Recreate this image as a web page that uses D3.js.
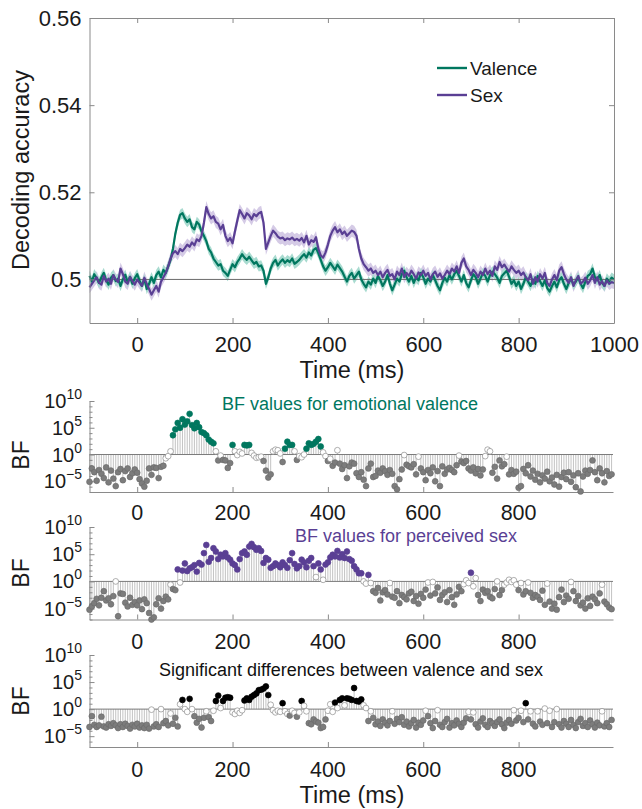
<!DOCTYPE html>
<html><head><meta charset="utf-8">
<script src="https://cdn.jsdelivr.net/npm/d3@7"></script>
<style>
body{margin:0;background:#fff}
svg{display:block}
text{font-family:"Liberation Sans",Arial,Helvetica,sans-serif;fill:#1a1a1a}
</style>
</head><body>
<svg id="chart" width="642" height="809"></svg>
<script>
// ---------------- DATA ----------------
const accStartMs = -100, accStepMs = 5;           // samples every 5 ms from -100 to 1000
const seriesNames = ["Valence", "Sex"];
const accValence = [
 .5008,.4995,.5012,.5003,.4992,.5005,.5015,.4998,.4988,.5004,.5010,.4996,.5002,.4985,.5000,.5011,.4994,.5006,.4990,.5003,
 .5012,.4997,.4985,.5001,.4978,.4990,.5005,.4992,.5010,.5018,.5005,.5022,.5015,.5030,.5045,.5070,.5105,.5130,.5148,.5152,
 .5140,.5132,.5138,.5120,.5115,.5132,.5126,.5110,.5100,.5088,.5070,.5062,.5048,.5040,.5032,.5035,.5020,.5015,.5008,.5022,
 .5035,.5028,.5040,.5048,.5058,.5050,.5045,.5052,.5044,.5036,.5040,.5030,.5032,.5020,.4990,.5005,.5025,.5038,.5045,.5032,
 .5040,.5046,.5038,.5044,.5040,.5048,.5036,.5040,.5045,.5052,.5058,.5050,.5062,.5055,.5068,.5072,.5060,.5045,.5030,.5020,
 .5028,.5038,.5030,.5022,.5034,.5026,.5018,.5006,.4995,.5008,.5015,.5002,.5010,.5018,.5000,.4990,.4982,.4995,.4988,.5002,
 .4992,.5008,.4998,.4985,.4995,.5010,.4990,.4975,.4988,.5002,.4995,.5012,.5020,.5005,.4995,.5008,.4992,.5005,.4998,.5015,
 .5005,.4990,.5002,.4995,.5010,.4998,.4985,.4975,.4992,.5004,.4995,.5010,.5000,.5012,.5020,.5008,.4995,.5010,.4992,.4982,
 .4998,.5012,.5005,.4990,.5002,.5015,.5008,.4995,.5010,.5018,.5012,.5004,.4992,.5008,.5014,.5020,.5006,.4990,.4998,.4985,
 .4995,.4978,.4990,.5005,.4995,.4985,.5000,.4990,.5008,.4996,.4985,.4998,.4980,.4972,.4985,.4995,.4982,.4998,.5005,.4990,
 .4978,.4992,.5002,.4988,.4995,.5005,.4990,.4980,.4995,.5008,.5012,.5025,.5005,.4998,.5010,.4992,.4985,.5002,.4995,.5004,
 .5000
];
const accSex = [
 .4982,.4990,.4998,.5005,.4992,.4988,.5008,.4995,.5002,.4990,.5010,.5000,.4994,.5025,.5012,.4995,.4990,.5006,.4996,.4988,
 .5000,.4992,.4985,.5004,.4990,.4978,.4965,.4975,.4985,.4972,.4995,.5005,.5015,.5030,.5048,.5060,.5065,.5058,.5070,.5065,
 .5072,.5080,.5075,.5085,.5078,.5092,.5088,.5100,.5130,.5166,.5150,.5140,.5145,.5132,.5128,.5115,.5125,.5100,.5088,.5095,
 .5083,.5110,.5135,.5159,.5150,.5140,.5152,.5147,.5138,.5150,.5145,.5152,.5155,.5130,.5070,.5085,.5100,.5112,.5106,.5098,
 .5094,.5096,.5090,.5094,.5092,.5096,.5090,.5093,.5089,.5095,.5085,.5100,.5080,.5090,.5086,.5097,.5070,.5055,.5050,.5062,
 .5080,.5100,.5112,.5120,.5108,.5115,.5104,.5110,.5100,.5106,.5112,.5109,.5100,.5070,.5048,.5035,.5028,.5020,.5025,.5015,
 .5020,.5010,.5018,.5005,.5015,.5022,.5008,.5012,.5000,.5018,.5010,.5025,.5005,.5015,.5008,.5020,.5012,.5002,.5016,.5010,
 .5020,.5008,.5015,.5000,.5012,.5018,.5006,.5014,.5002,.5010,.5020,.5012,.5025,.5018,.5030,.5015,.5038,.5048,.5030,.5022,
 .5010,.5022,.5015,.5005,.5018,.5010,.5025,.5012,.5020,.5008,.5030,.5022,.5040,.5028,.5034,.5025,.5018,.5030,.5022,.5015,
 .5020,.5010,.5016,.5005,.4998,.5012,.4990,.5005,.4995,.5012,.5002,.5015,.4992,.4985,.5000,.5010,.4998,.5020,.5028,.5012,
 .5000,.4992,.5005,.4985,.4998,.5008,.4990,.4995,.5004,.4990,.4998,.5010,.4992,.5005,.4988,.4996,.4985,.4998,.4990,.4994,
 .4992
];
const semValence = 0.0012;
const semSex = 0.0014;
const chanceLevel = 0.5;
const accTicks = [0.5, 0.52, 0.54, 0.56];
const accTickLabels = ["0.5", "0.52", "0.54", "0.56"];
const timeTicks = [0, 200, 400, 600, 800, 1000];
const timeTickLabels = ["0", "200", "400", "600", "800", "1000"];

// Bayes factors, log10(BF), every 5 ms from -100 to 995
const bfStartMs = -100, bfStepMs = 5;
const bfValenceLog10 = [
 -5.1,-2.6,-3.3,-4.9,-2.9,-3.6,-4.4,-2.4,-5.2,-3.0,-4.5,-5.9,-3.3,-2.7,-4.8,-3.1,-2.6,-4.2,-3.5,-2.8,
 -3.4,-4.6,-5.4,-6.0,-4.9,-2.6,-3.8,-2.4,-2.5,-4.4,-2.3,-2.1,-0.7,-0.3,0.6,3.6,4.7,5.9,5.0,6.6,
 5.6,6.2,7.6,5.5,4.9,5.9,5.1,4.2,4.0,3.6,2.8,2.4,2.1,0.6,-1.1,-0.2,-1.0,-1.1,-2.5,-1.6,
 1.8,0.6,-0.1,0.5,0.2,1.8,1.7,1.8,0.3,-0.2,-0.6,-0.5,-0.4,-1.2,-3.0,-4.3,-3.7,0.6,0.9,0.8,
 0.2,-1.4,1.1,2.4,1.8,1.8,0.6,-1.0,-0.3,-0.5,0.0,1.1,2.1,1.8,2.0,2.4,2.9,1.5,0.4,-0.3,
 -1.2,-0.8,-2.1,-1.5,0.8,-1.7,-2.7,-2.0,-4.4,-2.2,-1.5,-1.7,-3.5,-4.2,-3.3,-4.7,-5.9,-2.6,-1.7,-4.2,
 -4.0,-3.0,-3.4,-2.6,-3.1,-3.8,-2.9,-3.6,-5.9,-6.5,-4.6,-2.8,-0.1,-1.9,-2.2,-2.4,-1.8,-3.7,-0.4,-2.6,
 -3.3,-4.8,-2.9,-3.5,-2.4,-5.0,-3.1,-5.9,-2.2,-3.6,-2.8,-2.5,-2.9,-3.3,-2.0,-0.2,-1.3,-1.6,-1.2,-2.6,
 -3.0,-2.4,-3.5,-2.7,-3.9,-2.8,-0.3,0.9,0.6,-3.4,-2.3,-4.5,-1.1,-2.2,-1.8,-0.4,-3.7,-2.9,-3.6,-3.2,
 -6.2,-5.9,-2.7,-3.5,-2.0,-4.1,-3.0,-4.7,-3.6,-5.2,-3.9,-4.5,-3.2,-5.0,-4.3,-5.6,-3.8,-6.0,-4.2,-3.4,
 -4.6,-3.3,-5.1,-3.9,-6.1,-3.5,-6.9,-4.1,-3.0,-3.6,-2.9,-1.1,-3.3,-4.8,-2.6,-3.5,-5.2,-3.1,-4.0,-3.7
];
const bfSexLog10 = [
 -5.2,-4.6,-4.0,-3.2,-4.4,-3.0,-1.8,-3.5,-3.1,-4.2,-2.7,0.0,-6.4,-2.2,-2.3,-3.9,-4.6,-3.0,-4.3,-3.8,
 -4.4,-3.5,-5.1,-3.3,-4.0,-5.8,-7.0,-6.6,-4.2,-3.1,-5.0,-3.6,-2.8,-3.3,-0.6,-1.4,-1.6,2.2,-0.2,2.0,
 3.3,1.9,2.4,2.6,3.0,1.8,3.4,3.1,5.2,6.7,3.6,4.3,6.1,5.5,4.1,4.9,4.6,5.2,4.4,4.0,
 3.3,3.0,2.2,4.1,5.2,5.5,4.9,6.4,6.9,6.3,5.8,6.1,5.6,3.4,4.3,4.0,2.5,2.8,3.3,3.0,
 2.6,3.5,3.0,2.5,3.9,5.2,3.2,2.4,2.8,4.0,3.5,2.6,3.8,4.3,2.8,0.8,3.3,2.2,0.3,3.1,
 3.5,4.4,4.9,4.6,5.6,4.4,5.0,4.3,5.5,4.1,3.8,2.8,2.2,1.5,1.5,0.0,-0.4,1.2,-0.3,-1.8,
 -2.1,-1.2,-3.5,-2.0,-1.6,-2.4,-0.3,-2.8,-3.0,-1.8,-4.0,-2.5,-2.9,-3.3,-2.2,-1.9,-3.6,-2.7,-4.1,-2.3,
 -3.0,-1.5,-0.2,-2.6,-0.1,-2.2,-1.1,-3.4,-2.5,-2.0,-3.8,-1.6,-2.9,-4.3,-2.4,-1.0,-1.8,-0.5,0.2,-0.3,
 1.6,-0.9,0.6,-2.5,-3.6,-1.5,-2.1,-1.8,-2.8,-3.1,-1.4,0.0,-2.5,-1.6,-0.6,-0.2,0.3,-0.1,0.2,-0.6,
 -1.6,-0.3,-2.4,-1.8,-0.2,-2.1,-3.0,-2.5,-2.8,-3.4,-1.7,-4.3,-0.4,-3.7,-5.0,-4.1,-5.2,-2.9,-1.5,-3.8,
 -2.6,-3.2,-0.1,-1.8,-3.6,-2.7,-4.4,-3.9,-5.0,-3.1,-4.5,-2.8,-3.3,-4.0,-2.2,-0.6,-3.7,-4.2,-4.8,-5.1
];
const bfDiffLog10 = [
 -3.3,-1.3,-2.9,-3.3,-3.0,-1.4,-3.2,-3.4,-2.8,-3.1,-2.6,-3.0,-3.5,-2.8,-3.3,-2.7,-3.1,-3.6,-2.9,-3.2,
 -2.7,-3.4,-3.0,-3.5,-2.9,-3.6,-0.1,-3.2,-2.8,-3.3,0.0,-2.6,-2.2,-3.0,-0.8,-2.7,-1.6,-3.2,0.9,1.7,
 0.0,-0.5,1.9,0.0,-1.3,-2.5,-1.8,-3.4,-1.6,-0.4,-1.5,-2.2,-0.3,1.5,2.5,0.2,1.5,2.1,2.2,2.1,
 -0.6,-0.9,-0.3,-0.7,-0.2,1.6,2.0,1.7,2.3,2.6,2.9,3.5,3.6,3.8,4.2,2.6,0.8,-0.2,-0.6,-0.3,
 -0.5,1.1,-0.4,-0.9,-1.2,-0.3,-0.7,-1.4,-0.6,1.5,0.6,-0.4,-2.6,-2.8,-1.9,-2.3,-2.5,-3.5,-3.3,-1.9,
 -0.3,0.9,-0.5,1.2,0.2,1.7,2.0,0.7,2.0,1.9,1.7,3.9,1.5,1.4,1.8,0.7,0.2,-2.2,-0.4,-1.6,
 -2.8,-2.3,-3.1,-1.9,-2.5,-3.0,-2.2,-0.4,-2.7,-1.8,-2.4,-1.5,-2.9,-2.3,-3.2,-2.6,-2.0,-3.4,-2.5,-2.9,
 -2.1,-0.3,-1.3,-2.6,-3.5,-2.2,-0.2,-2.9,-3.3,-2.4,-1.8,-3.4,-2.6,-3.0,-2.1,-2.7,-3.3,-2.5,-1.7,-0.5,
 -1.9,-0.6,-2.8,-3.4,-2.3,-1.7,-2.9,-3.3,-2.2,-2.6,-3.1,-2.4,-1.9,-2.8,-3.5,-2.5,-2.0,-2.7,-0.2,-2.1,
 -1.6,-0.3,-2.4,1.1,-1.9,-0.4,-2.7,-3.2,-0.4,-2.3,-2.9,0.1,-2.6,-0.3,-3.3,-2.4,0.0,-2.8,-3.4,-2.2,
 -2.7,-3.3,-2.0,-2.9,-3.5,-2.4,-1.8,-3.1,-2.6,-3.3,-2.1,-2.8,-3.4,-2.5,-3.0,-0.4,-3.2,-2.6,-3.3,-2.0
];
const bfPanelTitles = ["BF values for emotional valence", "BF values for perceived sex", "Significant differences between valence and sex"];
const bfExpTicks = [-5, 0, 5, 10];
const bfTimeTicks = [0, 200, 400, 600, 800];
const bfThresholdLog10 = 1;   // BF > 10 coloured, BF < 1/10 grey

// ---------------- STYLE ----------------
const colValence = "#00775f", colSex = "#5a3f94";
const bandValence = "#a9dbd0", bandSex = "#d5cbe6";
const axisCol = "#8a8a8a";
const FONT = '"Liberation Sans",Arial,sans-serif';

const svg = d3.select("#chart");

// ---------------- TOP PANEL ----------------
const x = d3.scaleLinear().domain([-100, 1000]).range([89.5, 614]);
const y = d3.scaleLinear().domain([0.49, 0.56]).range([323, 18]);
const tOf = i => accStartMs + i * accStepMs;

const gTop = svg.append("g");
function band(arr, sem, col) {
  const area = d3.area().x((d, i) => x(tOf(i))).y0(d => y(d - sem)).y1(d => y(d + sem));
  gTop.append("path").datum(arr).attr("d", area).attr("fill", col).attr("stroke", "none");
}
band(accSex, semSex, bandSex);
band(accValence, semValence, bandValence);

gTop.append("line").attr("x1", x(-100)).attr("x2", x(1000)).attr("y1", y(chanceLevel)).attr("y2", y(chanceLevel))
  .attr("stroke", "#6a6a6a").attr("stroke-width", 1);

const lineGen = d3.line().x((d, i) => x(tOf(i))).y(d => y(d));
gTop.append("path").datum(accValence).attr("d", lineGen).attr("fill", "none").attr("stroke", colValence).attr("stroke-width", 2.2).attr("stroke-linejoin", "round");
gTop.append("path").datum(accSex).attr("d", lineGen).attr("fill", "none").attr("stroke", colSex).attr("stroke-width", 2.2).attr("stroke-linejoin", "round");

function styleAxis(g) {
  g.select(".domain").attr("stroke", axisCol).attr("stroke-width", 1);
  g.selectAll(".tick line").attr("stroke", axisCol);
  g.selectAll("text").attr("fill", "#1a1a1a").style("font-family", FONT);
}
// bottom
gTop.append("g").attr("transform", `translate(0,${y(0.49)})`)
  .call(d3.axisBottom(x).tickValues(timeTicks).tickSizeInner(-5).tickSizeOuter(0).tickPadding(13)
    .tickFormat((d, i) => timeTickLabels[i]))
  .call(styleAxis).call(g => g.selectAll("text").style("font-size", "22px"));
// top
gTop.append("g").attr("transform", `translate(0,${y(0.56)})`)
  .call(d3.axisTop(x).tickValues(timeTicks).tickSizeInner(-5).tickSizeOuter(0).tickFormat(""))
  .call(styleAxis);
// left
gTop.append("g").attr("transform", `translate(${x(-100)},0)`)
  .call(d3.axisLeft(y).tickValues(accTicks).tickSizeInner(-5).tickSizeOuter(0).tickPadding(8)
    .tickFormat((d, i) => accTickLabels[i]))
  .call(styleAxis).call(g => g.selectAll("text").style("font-size", "22px"));
// right
gTop.append("g").attr("transform", `translate(${x(1000)},0)`)
  .call(d3.axisRight(y).tickValues(accTicks).tickSizeInner(-5).tickSizeOuter(0).tickFormat(""))
  .call(styleAxis);

svg.append("text").attr("transform", "translate(29,170) rotate(-90)").attr("text-anchor", "middle")
  .style("font-size", "23.5px").text("Decoding accuracy");
svg.append("text").attr("x", 352).attr("y", 378).attr("text-anchor", "middle")
  .style("font-size", "23.5px").text("Time (ms)");

// legend
const legend = svg.append("g");
[[colValence, 68], [colSex, 95]].forEach(([c, ly], i) => {
  legend.append("line").attr("x1", 437).attr("x2", 467).attr("y1", ly).attr("y2", ly).attr("stroke", c).attr("stroke-width", 2.4);
  legend.append("text").attr("x", 470).attr("y", ly + 6.5).style("font-size", "19px").attr("fill", "#1a1a1a").text(seriesNames[i]);
});

// ---------------- BF PANELS ----------------
const xb = d3.scaleLinear().domain([-100, 998]).range([89.5, 613]);
const bfPanels = [
  {data: bfValenceLog10, col: colValence, title: bfPanelTitles[0], titleCol: colValence, top: 401, bottom: 492, titleX: 350, titleY: 410, labelY: 455, tickLabY: 519.5},
  {data: bfSexLog10, col: colSex, title: bfPanelTitles[1], titleCol: colSex, top: 527, bottom: 619.5, titleX: 406, titleY: 542, labelY: 573, tickLabY: 649},
  {data: bfDiffLog10, col: "#000000", title: bfPanelTitles[2], titleCol: "#111", top: 655, bottom: 747, titleX: 351, titleY: 676, labelY: 701, tickLabY: 777}
];

bfPanels.forEach(p => {
  const yb = d3.scaleLog().domain([1e-7, 1e10]).range([p.bottom, p.top]);
  const g = svg.append("g");
  const pts = p.data.map((v, i) => ({t: bfStartMs + i * bfStepMs, bf: Math.pow(10, v), lv: v}));

  // stems
  g.append("g").selectAll("line").data(pts).join("line")
    .attr("x1", d => xb(d.t)).attr("x2", d => xb(d.t))
    .attr("y1", yb(1)).attr("y2", d => yb(d.bf))
    .attr("stroke", "#b4b4b4").attr("stroke-width", 0.8);

  // baseline BF = 1
  g.append("line").attr("x1", xb(-100)).attr("x2", xb(998)).attr("y1", yb(1)).attr("y2", yb(1))
    .attr("stroke", "#7a7a7a").attr("stroke-width", 1);

  // axes
  g.append("g").attr("transform", `translate(0,${p.bottom})`)
    .call(d3.axisBottom(xb).tickValues(bfTimeTicks).tickSizeInner(-5).tickSizeOuter(0).tickFormat(""))
    .call(styleAxis);
  bfTimeTicks.forEach(t => g.append("text").attr("x", xb(t)).attr("y", p.tickLabY).attr("text-anchor", "middle")
    .style("font-size", "21.5px").text(t));

  const ay = g.append("g").attr("transform", `translate(${xb(-100)},0)`)
    .call(d3.axisLeft(yb).tickValues(d3.range(-7, 11).map(e => Math.pow(10, e))).tickSizeInner(-3).tickSizeOuter(0).tickFormat(""))
    .call(styleAxis);
  ay.selectAll(".tick line").attr("x2", (d) => bfExpTicks.includes(Math.round(Math.log10(d))) ? 5 : 3);

  bfExpTicks.forEach(e => {
    const tx = g.append("text").attr("x", 82).attr("y", yb(Math.pow(10, e)) + 7).attr("text-anchor", "end");
    tx.append("tspan").style("font-size", "20px").text("10");
    tx.append("tspan").attr("dy", -9).style("font-size", "14px").text(String(e).replace("-", "\u2212"));
  });

  // dots
  g.append("g").selectAll("circle").data(pts).join("circle")
    .attr("cx", d => xb(d.t)).attr("cy", d => yb(d.bf)).attr("r", 2.9)
    .attr("fill", d => d.lv >= bfThresholdLog10 ? p.col : d.lv <= -bfThresholdLog10 ? "#7c7c7c" : "#ffffff")
    .attr("stroke", d => d.lv >= bfThresholdLog10 ? p.col : d.lv <= -bfThresholdLog10 ? "#6c6c6c" : "#8c8c8c")
    .attr("stroke-width", 0.7);

  svg.append("text").attr("x", p.titleX).attr("y", p.titleY).attr("text-anchor", "middle")
    .style("font-size", "18px").style("fill", p.titleCol).text(p.title);
  svg.append("text").attr("transform", `translate(29,${p.labelY}) rotate(-90)`).attr("text-anchor", "middle")
    .style("font-size", "23px").text("BF");
});

svg.append("text").attr("x", 352).attr("y", 803).attr("text-anchor", "middle")
  .style("font-size", "23.5px").text("Time (ms)");
</script>
</body></html>
